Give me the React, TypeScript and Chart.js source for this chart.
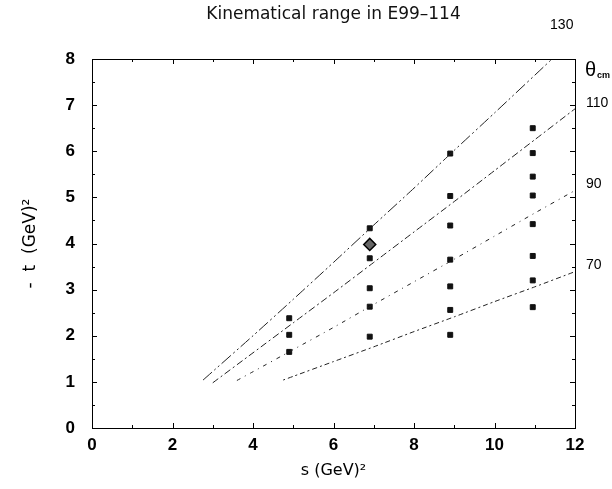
import React, { useEffect, useRef } from "react";
import { Chart, registerables } from "chart.js";

Chart.register(...registerables);

// Curves of constant theta_cm: [s, -t] points
const angleLabels = ["130", "110", "90", "70"];
const line130 = [[2.76, 1.04], [4, 2.0], [5, 2.79], [6, 3.59], [7, 4.4], [8, 5.2], [9, 6.02], [10, 6.83], [11.43, 8.0]];
const line110 = [[3.0, 0.98], [4, 1.63], [5, 2.28], [6, 2.93], [7, 3.59], [8, 4.25], [9, 4.91], [10, 5.58], [11, 6.25], [12, 6.92]];
const line90 = [[3.6, 1.03], [4, 1.22], [5, 1.7], [6, 2.18], [7, 2.68], [8, 3.17], [9, 3.66], [10, 4.16], [11, 4.66], [12, 5.15]];
const line70 = [[4.75, 1.04], [5, 1.12], [6, 1.44], [7, 1.76], [8, 2.09], [9, 2.41], [10, 2.74], [11, 3.06], [12, 3.39]];

// Measured kinematics: s values and -t values
const sValues = [4.9, 6.9, 8.9, 10.95];
const tAtS1 = [2.38, 2.02, 1.65];
const tAtS2 = [4.33, 3.68, 3.03, 2.63, 1.98];
const tAtS3 = [5.95, 5.03, 4.39, 3.65, 3.07, 2.56, 2.02];
const tAtS4 = [6.5, 5.96, 5.45, 5.04, 4.42, 3.73, 3.2, 2.62];
const diamondPoint = [6.9, 3.98];

const xTicks = [0, 2, 4, 6, 8, 10, 12];
const yTicks = [0, 1, 2, 3, 4, 5, 6, 7, 8];

const FONT = "'Liberation Sans', Arial, Helvetica, sans-serif";
const WIDE = "'DejaVu Sans', 'Liberation Sans', sans-serif";

const toXY = (arr: number[][]) => arr.map(([x, y]) => ({ x, y }));

const framePlugin = {
  id: "frameTicks",
  afterDatasetsDraw(chart: any) {
    const { ctx, chartArea: a, scales } = chart;
    const x = scales.x;
    const y = scales.y;
    ctx.save();
    ctx.strokeStyle = "#000";
    ctx.lineWidth = 1;
    ctx.strokeRect(Math.round(a.left) + 0.5, Math.round(a.top) + 0.5, Math.round(a.right - a.left), Math.round(a.bottom - a.top));
    ctx.beginPath();
    for (let v = 0; v <= 8; v += 0.5) {
      const py = Math.round(y.getPixelForValue(v)) + 0.5;
      const len = v % 1 === 0 ? 5 : 3;
      ctx.moveTo(a.left, py);
      ctx.lineTo(a.left + len, py);
      ctx.moveTo(a.right, py);
      ctx.lineTo(a.right - len, py);
    }
    for (let v = 0; v <= 12; v += 1) {
      const px = Math.round(x.getPixelForValue(v)) + 0.5;
      const len = v % 2 === 0 ? 5 : 3;
      ctx.moveTo(px, a.bottom);
      ctx.lineTo(px, a.bottom - len);
      ctx.moveTo(px, a.top);
      ctx.lineTo(px, a.top + len);
    }
    ctx.stroke();

    // angle labels
    ctx.fillStyle = "#000";
    ctx.font = `14px ${FONT}`;
    ctx.textBaseline = "middle";
    const ends = [line130, line110, line90, line70].map((l) => l[l.length - 1]);
    ends.forEach((p, i) => {
      const px = x.getPixelForValue(p[0]);
      const py = y.getPixelForValue(p[1]);
      ctx.textAlign = "left";
      if (i === 0) {
        ctx.fillText(angleLabels[i], px - 2, a.top - 34);
      } else {
        ctx.fillText(angleLabels[i], a.right + 11, py - 6);
      }
    });
    // theta_cm
    ctx.textAlign = "left";
    ctx.font = `20px ${FONT}`;
    ctx.fillText("θ", a.right + 10, a.top + 11);
    ctx.font = `bold 9px ${FONT}`;
    ctx.fillText("cm", a.right + 22, a.top + 17);
    ctx.restore();
  },
};

export default function App() {
  const ref = useRef<HTMLCanvasElement | null>(null);
  useEffect(() => {
    document.body.style.margin = "0";
    if (!ref.current) return;
    const lineStyle = (data: number[][], dash: number[]) => ({
      type: "line" as const,
      data: toXY(data),
      borderColor: "#222",
      borderWidth: 1,
      borderDash: dash,
      pointRadius: 0,
      fill: false,
      tension: 0.2,
    });
    const markerSet = (s: number, ts: number[]) => ({
      type: "scatter" as const,
      data: ts.map((t) => ({ x: s, y: t })),
      pointStyle: "rect",
      pointRadius: 3.5,
      backgroundColor: "#111",
      borderColor: "#111",
      borderWidth: 1,
    });
    const chart = new Chart(ref.current, {
      type: "scatter",
      data: {
        datasets: [
          lineStyle(line130, [12, 3, 2, 3, 2, 3]),
          lineStyle(line110, [7, 3, 2, 3]),
          lineStyle(line90, [4, 5, 1, 5]),
          lineStyle(line70, [2, 3, 5, 3]),
          markerSet(sValues[0], tAtS1),
          markerSet(sValues[1], tAtS2),
          markerSet(sValues[2], tAtS3),
          markerSet(sValues[3], tAtS4),
          {
            type: "scatter" as const,
            data: [{ x: diamondPoint[0], y: diamondPoint[1] }],
            pointStyle: "rectRot",
            pointRadius: 6,
            backgroundColor: "#666",
            borderColor: "#000",
            borderWidth: 1.5,
          },
        ] as any,
      },
      options: {
        responsive: false,
        animation: false,
        layout: { padding: { left: 0, right: 37, top: 0, bottom: 0 } },
        plugins: {
          legend: { display: false },
          tooltip: { enabled: false },
          title: {
            display: true,
            text: "Kinematical range in E99–114",
            fullSize: false,
            color: "#111",
            font: { family: WIDE, size: 17, weight: "normal" },
            padding: { top: 4, bottom: 34.6 },
          },
        },
        scales: {
          x: {
            type: "linear",
            min: 0,
            max: 12,
            afterBuildTicks: (s: any) => {
              s.ticks = xTicks.map((v) => ({ value: v }));
            },
            afterFit: (s: any) => {
              s.height = 61;
            },
            grid: { display: false, drawTicks: false },
            border: { display: false },
            ticks: {
              color: "#000",
              padding: 7,
              maxRotation: 0,
              font: { family: FONT, size: 17, weight: "bold" },
            },
            title: {
              display: true,
              text: "s (GeV)²",
              color: "#000",
              font: { family: WIDE, size: 16 },
              padding: { top: 0, bottom: 9 },
            },
          },
          y: {
            type: "linear",
            min: 0,
            max: 8,
            afterBuildTicks: (s: any) => {
              s.ticks = yTicks.map((v) => ({ value: v }));
            },
            afterFit: (s: any) => {
              s.width = 92;
            },
            grid: { display: false, drawTicks: false },
            border: { display: false },
            ticks: {
              color: "#000",
              padding: 17,
              font: { family: FONT, size: 17, weight: "bold" },
            },
            title: {
              display: true,
              text: "-  t  (GeV)²",
              color: "#000",
              font: { family: WIDE, size: 17 },
              padding: { top: 20, bottom: 0 },
            },
          },
        },
      },
      plugins: [framePlugin],
    });
    return () => chart.destroy();
  }, []);
  return <canvas ref={ref} width={612} height={489} style={{ display: "block" }} />;
}
